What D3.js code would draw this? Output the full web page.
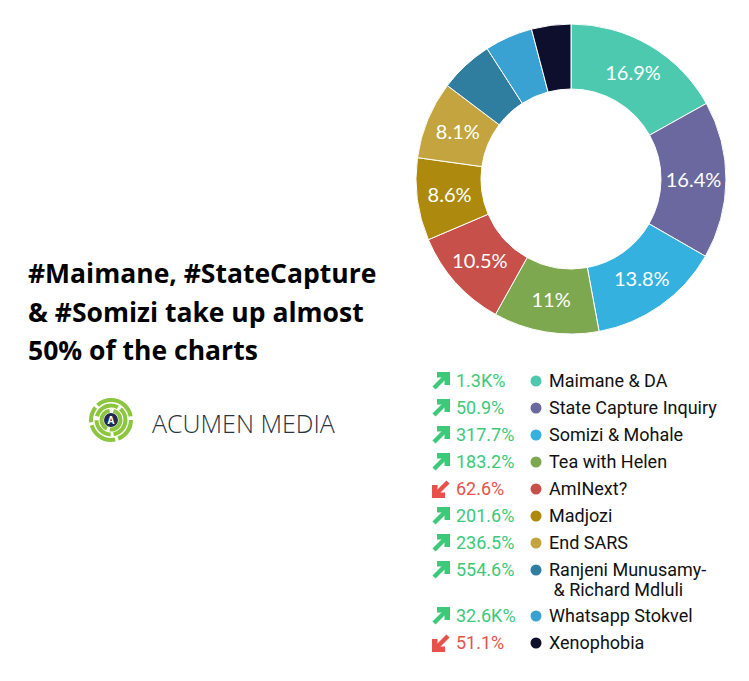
<!DOCTYPE html>
<html>
<head>
<meta charset="utf-8">
<script src="https://cdn.jsdelivr.net/npm/d3@7"></script>
<style>
  body { margin: 0; background: #fff; }
  svg { display: block; }
</style>
</head>
<body>
<div id="chart"></div>
<script>
// Data
var topics = ["Maimane & DA", "State Capture Inquiry", "Somizi & Mohale", "Tea with Helen", "AmINext?",
              "Madjozi", "End SARS", "Ranjeni Munusamy-\n & Richard Mdluli", "Whatsapp Stokvel", "Xenophobia"];
var shares = [16.9, 16.4, 13.8, 11, 10.5, 8.6, 8.1, 5.6, 5.0, 4.1];
var shareLabels = ["16.9%", "16.4%", "13.8%", "11%", "10.5%", "8.6%", "8.1%", "", "", ""];
var changes = ["1.3K%", "50.9%", "317.7%", "183.2%", "62.6%", "201.6%", "236.5%", "554.6%", "32.6K%", "51.1%"];
var trend = ["up", "up", "up", "up", "down", "up", "up", "up", "up", "down"];
var colors = ["#4dc9b0", "#6a689f", "#35b1e0", "#7ea84f", "#c8504a", "#ad8a0e", "#c3a43f", "#2f7ea0", "#3aa2d2", "#0e0e2d"];

var W = 749, H = 681;

var svg = d3.select("#chart").append("svg")
  .attr("width", W)
  .attr("height", H);

// Donut
var cx = 571, cy = 179;
var outerR = 155, innerR = 90;

var pie = d3.pie().sort(null).value(d => d);
var arc = d3.arc().innerRadius(innerR).outerRadius(outerR);
var labelArc = d3.arc().innerRadius((innerR + outerR) / 2).outerRadius((innerR + outerR) / 2);

var donut = svg.append("g")
  .attr("transform", `translate(${cx}, ${cy})`);

donut.selectAll("path")
  .data(pie(shares))
  .enter()
  .append("path")
  .attr("d", arc)
  .attr("fill", (d, i) => colors[i])
  .attr("stroke", "#fff")
  .attr("stroke-width", 1);

donut.selectAll("text")
  .data(pie(shares))
  .enter()
  .append("text")
  .attr("transform", d => `translate(${labelArc.centroid(d)})`)
  .attr("text-anchor", "middle")
  .attr("dy", "0.35em")
  .attr("fill", "#fff")
  .style("font-family", "Lato, sans-serif")
  .style("font-size", "20px")
  .text((d, i) => shareLabels[i]);

// Headline
var headline = ["#Maimane, #StateCapture", "& #Somizi take up almost", "50% of the charts"];
svg.append("g").selectAll("text")
  .data(headline)
  .enter()
  .append("text")
  .attr("x", 28)
  .attr("y", (d, i) => 283 + i * 38.5)
  .attr("fill", "#000")
  .style("font-family", "'Open Sans', sans-serif")
  .style("font-weight", "bold")
  .style("font-size", "26.5px")
  .text(d => d);

// Logo
var logo = svg.append("g").attr("transform", "translate(111, 420)");
var ringR = [20, 14.5, 9.5];
logo.selectAll("circle.ring")
  .data(ringR)
  .enter()
  .append("circle")
  .attr("r", d => d)
  .attr("fill", "none")
  .attr("stroke", "#8cc63f")
  .attr("stroke-width", 4)
  .attr("stroke-dasharray", (d, i) => [ "24 3 30 3 16 3 42 4", "20 3 22 4 26 3", "16 3 24 4" ][i]);
logo.append("circle")
  .attr("r", 7)
  .attr("fill", "#1d2b4f");
logo.append("text")
  .attr("text-anchor", "middle")
  .attr("dy", "0.35em")
  .attr("fill", "#fff")
  .style("font-family", "'Open Sans', sans-serif")
  .style("font-weight", "bold")
  .style("font-size", "10px")
  .text("A");
svg.append("text")
  .attr("x", 152)
  .attr("y", 433)
  .attr("fill", "#2b3340")
  .style("font-family", "'Open Sans', sans-serif")
  .style("font-weight", "300")
  .style("font-size", "25px")
  .text("ACUMEN MEDIA");

// Legend
var rowY = [381, 408, 435, 462, 489, 516, 543, 570, 616, 643];
var green = "#3cc97a", red = "#e8514a";

var legend = svg.append("g");
var rows = legend.selectAll("g.row")
  .data(topics)
  .enter()
  .append("g")
  .attr("class", "row")
  .attr("transform", (d, i) => `translate(0, ${rowY[i]})`);

// arrows
rows.append("g")
  .attr("transform", (d, i) => trend[i] === "up"
    ? "translate(441, 0)"
    : "translate(441, 0) rotate(180)")
  .each(function(d, i) {
    var c = trend[i] === "up" ? green : red;
    var g = d3.select(this);
    g.append("line")
      .attr("x1", -7).attr("y1", 7)
      .attr("x2", 4).attr("y2", -4)
      .attr("stroke", c)
      .attr("stroke-width", 4.5);
    g.append("path")
      .attr("d", "M-4,-9 L9,-9 L9,4 L3.5,4 L3.5,-3.5 L-4,-3.5 Z")
      .attr("fill", c);
  });

rows.append("text")
  .attr("x", 456)
  .attr("dy", "0.35em")
  .attr("fill", (d, i) => trend[i] === "up" ? green : red)
  .style("font-family", "Roboto, sans-serif")
  .style("font-size", "18px")
  .text((d, i) => changes[i]);

rows.append("circle")
  .attr("cx", 536)
  .attr("cy", 0)
  .attr("r", 5.5)
  .attr("fill", (d, i) => colors[i]);

rows.append("text")
  .attr("x", 549)
  .attr("fill", "#111")
  .style("font-family", "Roboto, sans-serif")
  .style("font-size", "18px")
  .each(function(d) {
    var t = d3.select(this);
    d.split("\n").forEach((line, j) => {
      t.append("tspan")
        .attr("x", 549)
        .attr("y", j * 20)
        .attr("dy", "0.35em")
        .style("white-space", "pre")
        .text(line);
    });
  });
</script>
</body>
</html>
